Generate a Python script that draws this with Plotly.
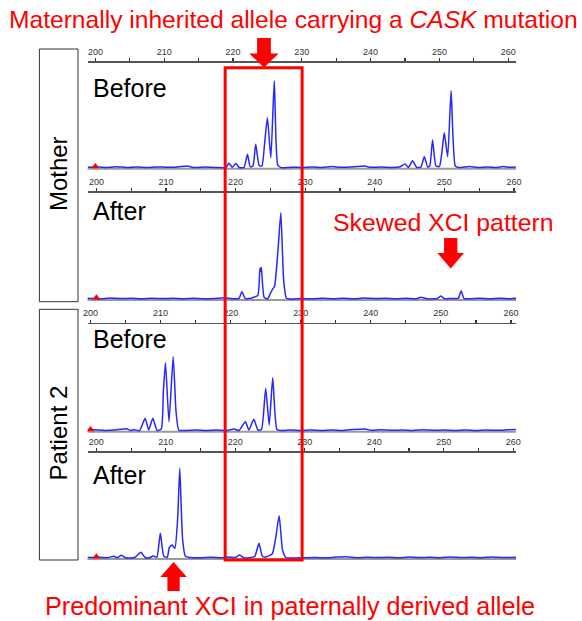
import plotly.graph_objects as go

# ---------------- data ----------------
tick_vals = [200, 210, 220, 230, 240, 250, 260]
minor_tick_vals = [205, 215, 225, 235, 245, 255]
size_standard_x = [200]
panel_labels = ["Before", "After", "Before", "After"]
group_labels = ["Mother", "Patient 2"]

mother_before_x = [198.9, 200.5, 201.5, 203.0, 204.5, 206.0, 207.5, 209.0, 210.5, 212.0, 213.4, 214.2, 216.0,
                   217.5, 219.0, 219.4, 219.9, 220.4, 220.9, 221.6, 222.1, 222.5, 222.9, 223.3, 223.8, 224.2,
                   224.6, 225.0, 225.5, 226.0, 226.5, 227.0, 228.5, 230.0, 231.5, 233.0, 234.4, 235.5, 237.0,
                   239.1, 240.0, 241.5, 243.0, 244.3, 245.0, 245.5, 246.1, 246.7, 247.3, 247.8, 248.3, 248.6,
                   249.0, 249.5, 250.0, 250.4, 250.7, 251.2, 251.7, 252.3, 252.8, 254.4, 255.5, 257.0, 258.5,
                   259.2, 260.2, 261.1]
mother_before_y = [0.8, 1.0, 0.5, 1.2, 0.6, 1.0, 0.6, 1.1, 0.7, 1.0, 2.0, 0.6, 1.0,
                   0.5, 0.6, 4.7, 0.8, 4.5, 0.5, 0.6, 13.7, 1.2, 2.0, 23.7, 2.5, 2.0,
                   25.0, 50.3, 10.3, 87.3, 3.0, 0.4, 0.8, 0.5, 1.0, 0.6, 1.5, 0.7, 1.0,
                   2.0, 0.7, 1.0, 0.6, 1.2, 4.0, 0.6, 7.3, 0.6, 0.8, 11.3, 1.0, 2.0,
                   28.0, 2.0, 1.5, 18.0, 35.3, 11.3, 77.3, 2.0, 0.5, 1.5, 0.6, 1.0, 0.6,
                   1.5, 0.7, 1.0]

mother_after_x = [198.7, 200.5, 202.0, 203.5, 205.0, 206.5, 208.0, 209.5, 211.0, 212.5, 214.0, 215.5, 217.0,
                  218.5, 219.5, 220.5, 220.9, 221.4, 222.2, 222.6, 223.2, 223.5, 223.6, 223.7, 224.1, 224.6,
                  225.0, 225.3, 225.6, 226.1, 226.5, 226.9, 227.3, 228.0, 229.5, 231.0, 232.5, 234.0, 235.5,
                  237.0, 238.5, 240.0, 241.5, 243.0, 244.5, 246.0, 246.6, 247.5, 249.0, 249.5, 250.0, 251.0,
                  252.0, 252.4, 252.8, 253.5, 255.0, 256.5, 258.0, 259.5, 260.3]
mother_after_y = [1.0, 0.6, 1.2, 0.7, 1.0, 0.6, 1.1, 0.7, 1.0, 0.6, 1.0, 0.5, 0.8,
                  1.5, 0.5, 1.0, 7.6, 0.8, 1.0, 2.0, 4.0, 31.0, 28.0, 32.0, 2.0, 0.4,
                  6.0, 10.0, 13.0, 50.0, 86.6, 20.0, 1.0, 0.4, 0.8, 0.5, 1.0, 0.6, 1.0,
                  0.6, 1.2, 0.7, 1.0, 0.6, 1.0, 0.6, 2.0, 0.5, 0.8, 3.3, 0.6, 0.8,
                  1.0, 8.6, 1.0, 0.5, 1.0, 0.6, 1.0, 0.6, 1.0]

patient_before_x = [199.6, 200.5, 202.0, 203.5, 205.1, 205.7, 206.3, 207.0, 207.8, 208.3, 208.9, 209.5, 210.1,
                    210.4, 210.7, 211.2, 211.8, 212.2, 212.6, 213.5, 215.0, 216.5, 218.0, 219.5, 220.5, 221.2,
                    222.1, 222.6, 223.3, 223.9, 224.4, 225.0, 225.5, 226.0, 226.6, 227.2, 228.5, 230.0, 231.5,
                    233.0, 234.5, 236.0, 237.5, 239.2, 240.0, 241.5, 243.0, 244.5, 246.0, 247.5, 249.0, 250.5,
                    252.0, 253.5, 255.0, 256.5, 258.0, 259.5, 260.7]
patient_before_y = [0.8, 1.2, 0.6, 1.0, 2.3, 0.6, 1.2, 0.4, 12.7, 1.0, 12.7, 0.5, 2.0,
                    40.0, 68.3, 9.3, 74.3, 20.0, 0.8, 0.5, 1.0, 0.6, 1.0, 0.6, 2.0, 0.5,
                    9.3, 1.0, 11.7, 1.0, 1.5, 42.7, 6.0, 53.3, 1.5, 0.5, 1.0, 0.6, 1.0,
                    0.6, 1.0, 0.6, 1.5, 2.0, 0.8, 1.2, 0.7, 1.0, 0.6, 1.2, 0.7, 1.0,
                    0.6, 1.0, 0.6, 1.0, 0.7, 1.2, 1.6]

patient_after_x = [198.7, 200.5, 201.5, 202.5, 203.0, 203.6, 204.2, 205.5, 206.4, 207.0, 207.6, 208.2, 208.7,
                   209.2, 209.7, 210.2, 210.5, 210.9, 211.3, 211.7, 212.0, 212.4, 212.8, 213.5, 215.0, 216.5,
                   218.0, 219.0, 220.0, 220.6, 221.2, 222.0, 222.8, 223.4, 223.9, 224.5, 225.3, 225.8, 226.3,
                   226.8, 227.3, 228.5, 230.0, 231.5, 233.0, 234.5, 236.0, 237.5, 239.0, 240.5, 242.0, 243.5,
                   245.0, 246.5, 248.0, 249.5, 251.0, 252.5, 254.0, 255.5, 257.0, 258.5, 260.4]
patient_after_y = [0.8, 1.0, 0.5, 2.0, 0.6, 3.0, 0.5, 0.8, 6.0, 0.8, 0.5, 2.3, 1.0,
                   25.0, 2.0, 1.0, 11.0, 13.3, 10.0, 40.0, 90.0, 20.0, 2.0, 0.8, 0.5, 1.0,
                   0.6, 1.2, 0.8, 3.3, 0.6, 0.5, 2.0, 15.0, 2.0, 1.5, 4.3, 20.0, 42.6,
                   8.0, 0.6, 0.4, 0.6, 0.8, 0.5, 1.2, 1.5, 0.6, 1.0, 0.7, 1.0, 0.5,
                   1.2, 0.7, 1.0, 0.6, 1.3, 0.7, 1.0, 0.6, 1.4, 0.7, 1.0]

series_x = [mother_before_x, mother_after_x, patient_before_x, patient_after_x]
series_y = [mother_before_y, mother_after_y, patient_before_y, patient_after_y]

# ---------------- layout helpers ----------------
W, H = 582, 621


def px(x):
    return x / W


def py(y):
    return 1 - y / H


# per panel: (axis top px, baseline px, x-range)
panels = [
    (62.7, 168.0, [198.86, 261.14]),
    (192.7, 299.3, [198.73, 260.30]),
    (324.3, 431.0, [199.58, 260.73]),
    (452.7, 558.3, [198.73, 260.40]),
]
label_y = [88, 211, 339, 475]
BELOW = 2.5
RED = "#ff0000"
FONT = "Liberation Sans, Arial, sans-serif"

fig = go.Figure()
layout = dict(
    width=W, height=H, autosize=False,
    margin=dict(l=0, r=0, t=0, b=0),
    paper_bgcolor="white", plot_bgcolor="white",
    showlegend=False,
    font=dict(family=FONT),
)
shapes = []
annotations = []

for i, (top, base, xr) in enumerate(panels):
    n = i + 1
    sfx = "" if n == 1 else str(n)
    xa, ya = "x" + sfx, "y" + sfx
    fig.add_trace(go.Scatter(x=series_x[i], y=series_y[i], mode="lines", xaxis=xa, yaxis=ya,
                             line=dict(color="#2626ff", width=1.5, shape="spline", smoothing=0.5),
                             hoverinfo="skip"))
    fig.add_trace(go.Scatter(x=size_standard_x, y=[1.5], mode="markers", xaxis=xa, yaxis=ya,
                             marker=dict(symbol="triangle-up", color=RED, size=7), hoverinfo="skip"))
    layout["xaxis" + sfx] = dict(
        domain=[px(84), px(520)], range=xr, anchor=ya, side="top",
        showline=True, linecolor="#555", linewidth=1.5,
        ticks="outside", ticklen=3, tickwidth=1.2, tickcolor="#333",
        tickmode="array", tickvals=tick_vals,
        tickfont=dict(size=9, color="#333", family=FONT),
        minor=dict(tickmode="array", tickvals=minor_tick_vals, ticks="outside", ticklen=3,
                   tickwidth=1.2, tickcolor="#333"),
        showgrid=False, zeroline=False, fixedrange=True,
    )
    layout["yaxis" + sfx] = dict(
        domain=[py(base + BELOW), py(top)], range=[-BELOW, base - top], anchor=xa,
        visible=False, showgrid=False, zeroline=False, fixedrange=True,
    )
    shapes.append(dict(type="line", xref=xa + " domain", yref=ya, x0=0, x1=1, y0=-0.8, y1=-0.8,
                       line=dict(color="#9a9a9a", width=2), layer="below"))
    annotations.append(dict(text=panel_labels[i], xref="paper", yref="paper", x=px(88), y=py(label_y[i]),
                            xanchor="left", yanchor="middle", showarrow=False,
                            font=dict(size=25, color="black", family=FONT)))

# group boxes
for (y0, y1), lab in zip([(49, 301.7), (309.3, 560)], group_labels):
    shapes.append(dict(type="rect", xref="paper", yref="paper", x0=px(35), x1=px(74.3), y0=py(y1), y1=py(y0),
                       line=dict(color="#333", width=1), fillcolor="rgba(0,0,0,0)"))
    annotations.append(dict(text=lab, xref="paper", yref="paper", x=px(54.7), y=py((y0 + y1) / 2 - 2),
                            textangle=-90, showarrow=False, xanchor="center", yanchor="middle",
                            font=dict(size=24, color="black", family=FONT)))

# red highlight box
shapes.append(dict(type="rect", xref="paper", yref="paper", x0=px(224), x1=px(302.3), y0=py(560), y1=py(67.7),
                   line=dict(color=RED, width=3), fillcolor="rgba(0,0,0,0)"))


def arrow_down(cx, y_top, y_head, y_tip, bw, hw):
    pts = [(cx - bw / 2, y_top), (cx + bw / 2, y_top), (cx + bw / 2, y_head), (cx + hw / 2, y_head),
           (cx, y_tip), (cx - hw / 2, y_head), (cx - bw / 2, y_head)]
    path = "M " + " L ".join(f"{px(x):.5f},{py(y):.5f}" for x, y in pts) + " Z"
    return dict(type="path", xref="paper", yref="paper", path=path, fillcolor=RED,
                line=dict(color=RED, width=0))


shapes.append(arrow_down(263.5, 38, 53.5, 67.5, 14, 30))
shapes.append(arrow_down(453.5, 238, 253, 268.5, 13.5, 27))
shapes.append(arrow_down(171.5, 591, 577, 562, 12.5, 27))

annotations.append(dict(text="Maternally inherited allele carrying a <i>CASK</i> mutation",
                        xref="paper", yref="paper", x=px(293.5), y=py(19), showarrow=False,
                        xanchor="center", yanchor="middle", font=dict(size=24.6, color=RED, family=FONT)))
annotations.append(dict(text="Skewed XCI pattern", xref="paper", yref="paper", x=px(446), y=py(222),
                        showarrow=False, xanchor="center", yanchor="middle",
                        font=dict(size=24.8, color=RED, family=FONT)))
annotations.append(dict(text="Predominant XCI in paternally derived allele", xref="paper", yref="paper",
                        x=px(290), y=py(606), showarrow=False, xanchor="center", yanchor="middle",
                        font=dict(size=25.2, color=RED, family=FONT)))

layout["shapes"] = shapes
layout["annotations"] = annotations
fig.update_layout(**layout)
fig.write_html("out.html", config=dict(displayModeBar=False, staticPlot=True),
               post_script="document.body.style.margin='0';document.body.style.overflow='hidden';")
